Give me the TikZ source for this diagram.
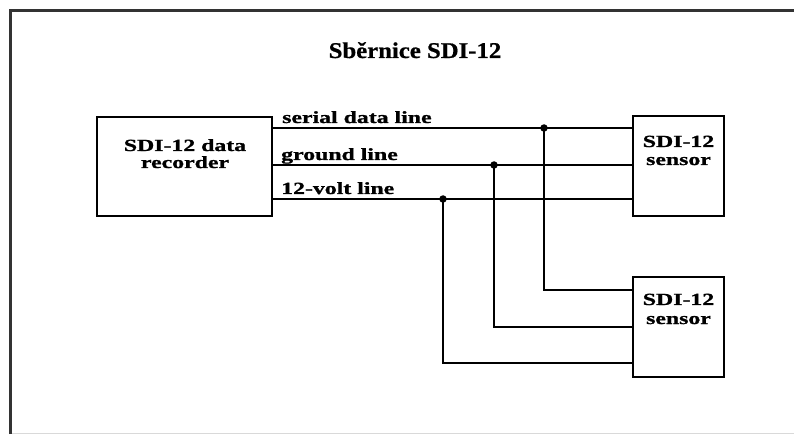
\documentclass[tikz,border=0pt]{standalone}
\usepackage{fontspec}
\setmainfont{Liberation Serif}
\newfontfamily\lblfont[FakeStretch=1.4,FakeBold=1.2]{Liberation Serif}
\newfontfamily\titlefont[FakeStretch=1.1,FakeBold=0.8]{Liberation Serif}
\begin{document}
\begin{tikzpicture}[x=1pt,y=-1pt,
  box/.style={draw=black,line width=2.8pt,fill=white,inner sep=0pt},
  wire/.style={draw=black,line width=2.6pt},
  lbl/.style={inner sep=0pt,font=\lblfont\bfseries\fontsize{17}{18}\selectfont},
  dot/.style={fill=black,circle,inner sep=0pt,minimum size=7.5pt}]
\useasboundingbox (0,0) rectangle (794,435);
% frame
\draw[line width=0.8pt,draw=black!15] (10,433) -- (794,433);
\draw[line width=3pt,draw=black!80] (10,434) -- (10,11) -- (794,11);
% title
\node[inner sep=0pt,anchor=base,font=\titlefont\bfseries\fontsize{22.5}{24}\selectfont] (title) at (415,58) {Sběrnice SDI-12};
% boxes
\node[box,minimum width=175pt,minimum height=99pt] (rec) at (184.5,166.5) {};
\node[box,minimum width=91pt,minimum height=100pt] (s1) at (678.5,166) {};
\node[box,minimum width=91pt,minimum height=100pt] (s2) at (678.5,327) {};
% box texts
\node[lbl,anchor=base] (rt1) at (185,151) {SDI-12 data};
\node[lbl,anchor=base] (rt2) at (185,168) {recorder};
\node[lbl,anchor=base] (st1) at (678.5,147) {SDI-12};
\node[lbl,anchor=base] (st2) at (678.5,165) {sensor};
\node[lbl,anchor=base] (su1) at (678.5,305) {SDI-12};
\node[lbl,anchor=base] (su2) at (678.5,324) {sensor};
% junctions
\coordinate (j1) at (544,128);
\coordinate (j2) at (494,165);
\coordinate (j3) at (443,199);
\coordinate (k1) at (544,290);
\coordinate (k2) at (494,327);
\coordinate (k3) at (443,363);
% bus lines
\draw[wire] (rec.east |- j1) -- (s1.west |- j1);
\draw[wire] (rec.east |- j2) -- (s1.west |- j2);
\draw[wire] (rec.east |- j3) -- (s1.west |- j3);
% drops to second sensor
\draw[wire] (j1) -- (k1) -- (s2.west |- k1);
\draw[wire] (j2) -- (k2) -- (s2.west |- k2);
\draw[wire] (j3) -- (k3) -- (s2.west |- k3);
\node[dot] (d1) at (j1) {};
\node[dot] (d2) at (j2) {};
\node[dot] (d3) at (j3) {};
% line labels
\node[lbl,anchor=base west] (l1) at (282,123) {serial data line};
\node[lbl,anchor=base west] (l2) at (281,160) {ground line};
\node[lbl,anchor=base west] (l3) at (281,194) {12-volt line};
\end{tikzpicture}
\end{document}
